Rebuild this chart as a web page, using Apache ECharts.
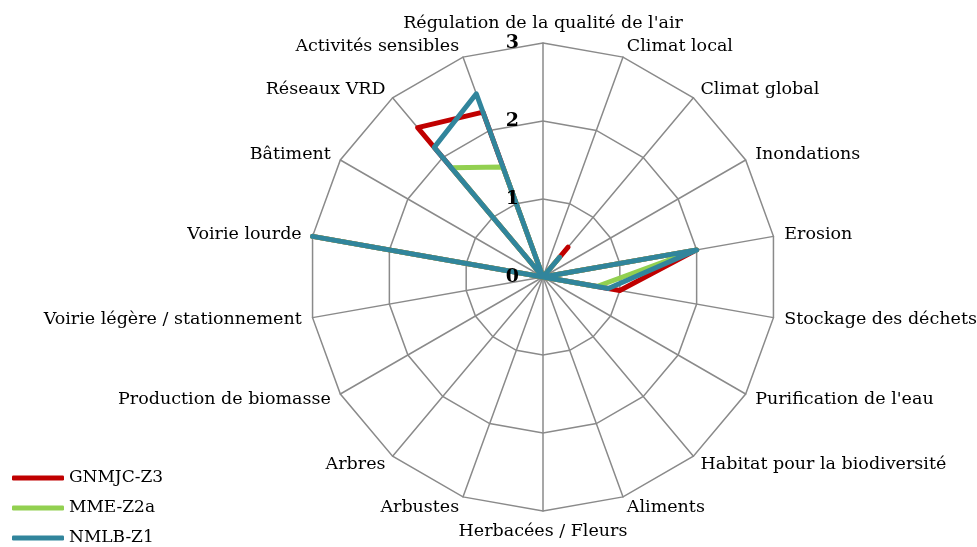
<!DOCTYPE html>
<html>
<head>
<meta charset="utf-8">
<script src="https://cdn.jsdelivr.net/npm/echarts@6/dist/echarts.min.js"></script>
<style>
  html, body { margin: 0; padding: 0; background: #fff; }
  #chart { width: 977px; height: 547px; }
</style>
</head>
<body>
<div id="chart"></div>
<script>
var criteres = ["Régulation de la qualité de l'air", 'Climat local', 'Climat global', 'Inondations', 'Erosion',
  'Stockage des déchets', "Purification de l'eau", 'Habitat pour la biodiversité', 'Aliments', 'Herbacées / Fleurs',
  'Arbustes', 'Arbres', 'Production de biomasse', 'Voirie légère / stationnement', 'Voirie lourde', 'Bâtiment',
  'Réseaux VRD', 'Activités sensibles']
var seriesNames = ['GNMJC-Z3', 'MME-Z2a', 'NMLB-Z1']
var gnmjc = [0, 0, 0.5, 0, 2, 1, 0, 0, 0, 0, 0, 0, 0, 0, 3, 0, 2.5, 2.25]
var mme = [0, 0, 0.33, 0, 2, 0.7, 0, 0, 0, 0, 0, 0, 0, 0, 3, 0, 1.83, 1.5]
var nmlb = [0, 0, 0.33, 0, 2, 0.85, 0, 0, 0, 0, 0, 0, 0, 0, 3, 0, 2.17, 2.5]
var ticks = ['0', '1', '2', '3']
var couleurs = ['#C00000', '#92D050', '#31859C']

var chartDom = document.getElementById('chart')
var myChart = echarts.init(chartDom)
var fontFam = 'DejaVu Serif'

// le radar d'echarts tourne dans le sens inverse : on garde le 1er en haut et on inverse le reste
function sensHoraire(arr) {
  return [arr[0]].concat(arr.slice(1).reverse())
}

var donnees = [gnmjc, mme, nmlb]
var option = {
  animation: false,
  legend: {
    orient: 'vertical',
    left: 12,
    top: 469,
    padding: 0,
    itemWidth: 52,
    itemHeight: 5,
    itemGap: 12,
    icon: 'roundRect',
    data: seriesNames,
    textStyle: { fontFamily: fontFam, fontSize: 17, color: '#000', lineHeight: 18 }
  },
  radar: {
    center: [543, 277],
    radius: 234,
    startAngle: 90,
    shape: 'polygon',
    splitNumber: 3,
    indicator: sensHoraire(criteres).map(function (c) { return { name: c, max: 3, min: 0 } }),
    nameGap: 11,
    axisName: { color: '#000', fontFamily: fontFam, fontSize: 17.5 },
    axisLine: { lineStyle: { color: '#8a8a8a', width: 1.5 } },
    splitLine: { lineStyle: { color: '#8a8a8a', width: 1.5 } },
    splitArea: { show: false },
    axisTick: { show: false },
    axisLabel: { show: false }
  },
  // seulement pour écrire 0..3 le long de l'axe du haut, par-dessus les courbes
  polar: { center: [543, 277], radius: 234 },
  angleAxis: { show: false, startAngle: 90, min: 0, max: 360 },
  radiusAxis: {
    z: 10,
    min: 0, max: 3, interval: 1,
    axisLine: { show: false },
    axisTick: { show: false },
    splitLine: { show: false },
    axisLabel: {
      margin: 24,
      fontFamily: fontFam, fontWeight: 'bold', fontSize: 19, color: '#000',
      formatter: function (v) { return ticks[v] }
    }
  },
  series: donnees.map(function (d, i) {
    return {
      name: seriesNames[i],
      type: 'radar',
      symbol: 'none',
      color: couleurs[i],
      lineStyle: { width: 5, color: couleurs[i] },
      data: [{ value: sensHoraire(d), name: seriesNames[i] }]
    }
  })
}
option && myChart.setOption(option)
</script>
</body>
</html>
